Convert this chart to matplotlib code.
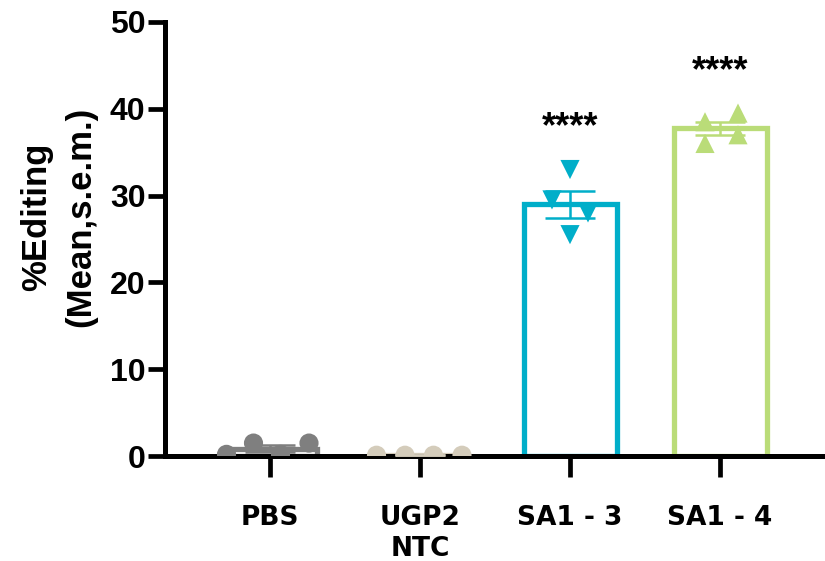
import numpy as np
import matplotlib.pyplot as plt

# data
groups = ['PBS', 'UGP2\nNTC', 'SA1 - 3', 'SA1 - 4']
pbs = [0.2, 1.5, 0.2, 1.5]
ugp2 = [0.1, 0.1, 0.1, 0.1]
sa1_3 = [33.0, 29.5, 28.0, 25.5]
sa1_4 = [38.5, 39.5, 36.0, 37.0]
stars = ['', '', '****', '****']

# point layout inside each bar (fraction of category spacing)
offsets = [
    [-0.29, -0.11, 0.07, 0.26],
    [-0.29, -0.10, 0.09, 0.28],
    [0.0, -0.12, 0.12, 0.0],
    [-0.10, 0.12, -0.10, 0.12],
]
colors = ['#7f7f7f', '#d4ccbb', '#00aec9', '#badc78']
markers = ['o', 'o', 'v', '^']

values = [pbs, ugp2, sa1_3, sa1_4]
means = [np.mean(v) for v in values]
sems = [np.std(v, ddof=1) / np.sqrt(len(v)) for v in values]

fig = plt.figure(figsize=(8.25, 5.61), dpi=100)
ax = fig.add_axes([0.2, 0.187, 0.8, 0.774])

x = np.arange(len(groups))
for i in range(len(groups)):
    ax.bar(x[i], means[i], width=0.62, facecolor='white', edgecolor=colors[i],
           linewidth=3.8, zorder=2)
    ax.errorbar(x[i], means[i], yerr=sems[i], color=colors[i], capsize=18,
                elinewidth=1.8, capthick=1.8, zorder=3)
    ax.scatter(x[i] + np.array(offsets[i]), values[i], marker=markers[i],
               s=190, color=colors[i], edgecolors='none', zorder=4, clip_on=True)
    if stars[i]:
        ax.text(x[i], max(values[i]) + 2.8, stars[i], ha='center', va='bottom',
                fontsize=26, fontweight='bold', family='Liberation Sans')

ax.set_xlim(-0.7, 3.7)
ax.set_ylim(0, 50)
ax.set_yticks([0, 10, 20, 30, 40, 50])
ax.set_xticks(x)
ax.set_xticklabels(groups, fontsize=19, fontweight='bold', family='DejaVu Sans',
                   linespacing=1.25)
for lab in ax.get_yticklabels():
    lab.set_fontsize(23)
    lab.set_fontweight('bold')
    lab.set_family('Liberation Sans')

ax.spines['top'].set_visible(False)
ax.spines['right'].set_visible(False)
ax.spines['left'].set_linewidth(3.6)
ax.spines['bottom'].set_linewidth(3.6)
ax.tick_params(axis='y', length=12, width=3.4, pad=2)
ax.tick_params(axis='x', length=15, width=3.4, pad=20)

ax.set_ylabel('%Editing\n(Mean,s.e.m.)', fontsize=25, fontweight='bold',
              family='Liberation Sans', linespacing=1.4)
ax.yaxis.set_label_coords(-0.103, 0.55)

fig.savefig('out.png', dpi=100)
